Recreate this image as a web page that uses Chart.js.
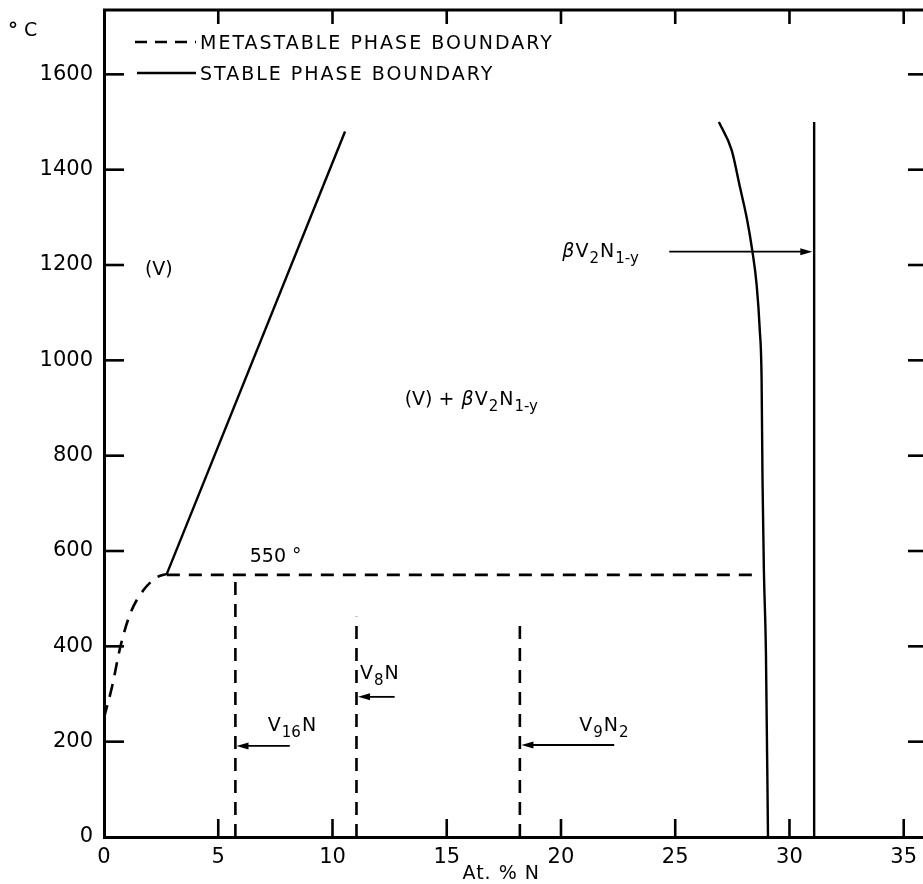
<!DOCTYPE html>
<html>
<head>
<meta charset="utf-8">
<script src="https://cdn.jsdelivr.net/npm/chart.js@4/dist/chart.umd.min.js"></script>
<style>
  html, body { margin: 0; padding: 0; background: #fff; }
</style>
</head>
<body>
<canvas id="c" width="923" height="884"></canvas>
<script>
const xTicks = [0, 5, 10, 15, 20, 25, 30, 35];
const yTicks = [0, 200, 400, 600, 800, 1000, 1200, 1400, 1600];

// metastable (dashed) boundaries
const solvusX = [0, 0.35, 0.72, 1.16, 1.73, 2.33, 2.75];
const solvusY = [250, 315, 400, 470, 518, 545, 552];
const isoX = [2.75, 28.4];
const isoY = [550, 550];
const v16nX = [5.75, 5.75];
const v16nY = [0, 550];
const v8nX = [11.05, 11.05];
const v8nY = [0, 462];
const v9n2X = [18.2, 18.2];
const v9n2Y = [0, 447];

// stable (solid) boundaries
const vLineX = [2.75, 10.55];
const vLineY = [552, 1480];
const betaLeftX = [26.91, 27.47, 27.83, 28.15, 28.37, 28.56, 28.7, 28.78, 28.82, 28.88, 28.97, 29.06];
const betaLeftY = [1500, 1441, 1364, 1294, 1231, 1160, 1064, 959, 749, 560, 386, 0];
const betaRightX = [31.08, 31.08];
const betaRightY = [0, 1500];

function pts(xs, ys){ return xs.map((x, i) => ({x: x, y: ys[i]})); }

const FONT = '"DejaVu Sans", "Liberation Sans", sans-serif';

function dashed(xs, ys, smooth){
  return { data: pts(xs, ys), borderColor: '#000', borderWidth: 2.6, borderDash: [13, 9],
           pointRadius: 0, cubicInterpolationMode: smooth ? 'monotone' : 'default', fill: false };
}
function solid(xs, ys, smooth){
  return { data: pts(xs, ys), borderColor: '#000', borderWidth: 2.4,
           pointRadius: 0, cubicInterpolationMode: smooth ? 'monotone' : 'default', fill: false };
}

// text labels: parts with subscripts, anchored at left/baseline in data units
const labels = [
  { x: 1.79, y: 1179, parts: [{t: '(V)'}] },
  { x: 13.16, y: 907, parts: [{t: '(V) + '}, {t: 'β', it: true}, {t: 'V'}, {t: '2', sub: true}, {t: 'N'}, {t: '1-y', sub: true}] },
  { x: 20.06, y: 1217, parts: [{t: 'β', it: true}, {t: 'V'}, {t: '2', sub: true}, {t: 'N'}, {t: '1-y', sub: true}] },
  { x: 6.38, y: 577, parts: [{t: '550 °'}] },
  { x: 7.17, y: 222, parts: [{t: 'V'}, {t: '16', sub: true}, {t: 'N'}] },
  { x: 11.2, y: 332, parts: [{t: 'V'}, {t: '8', sub: true}, {t: 'N'}] },
  { x: 20.8, y: 222, parts: [{t: 'V'}, {t: '9', sub: true}, {t: 'N'}, {t: '2', sub: true}] }
];

// arrows: tail -> head, data units
const arrows = [
  { x1: 8.13, x2: 5.8, y: 191 },
  { x1: 12.72, x2: 11.12, y: 294 },
  { x1: 22.33, x2: 18.27, y: 193 },
  { x1: 24.74, x2: 31.0, y: 1228 }
];

function drawRich(ctx, x, y, parts, size){
  let cx = x;
  ctx.textBaseline = 'alphabetic';
  ctx.textAlign = 'left';
  parts.forEach(p => {
    const fs = p.sub ? Math.round(size * 0.78) : size;
    ctx.font = (p.it ? 'italic ' : '') + fs + 'px ' + FONT;
    ctx.fillText(p.t, cx, y + (p.sub ? size * 0.32 : 0));
    cx += ctx.measureText(p.t).width + 1;
  });
}

const decor = {
  id: 'decor',
  afterDatasetsDraw(chart){
    const ctx = chart.ctx;
    const xs = chart.scales.x, ys = chart.scales.y;
    const ca = chart.chartArea;
    ctx.save();
    ctx.strokeStyle = '#000';
    ctx.fillStyle = '#000';
    ctx.setLineDash([]);

    // top frame line
    ctx.lineWidth = 3;
    ctx.beginPath();
    ctx.moveTo(ca.left - 1, ca.top);
    ctx.lineTo(chart.width, ca.top);
    ctx.stroke();

    // inward tick marks
    ctx.lineWidth = 2.6;
    xTicks.forEach(v => {
      if (v === 0) return;
      const px = xs.getPixelForValue(v);
      ctx.beginPath(); ctx.moveTo(px, ca.bottom); ctx.lineTo(px, ca.bottom - 18); ctx.stroke();
      ctx.beginPath(); ctx.moveTo(px, ca.top); ctx.lineTo(px, ca.top + 14); ctx.stroke();
    });
    yTicks.forEach(v => {
      if (v === 0) return;
      const py = ys.getPixelForValue(v);
      ctx.beginPath(); ctx.moveTo(ca.left, py); ctx.lineTo(ca.left + 20, py); ctx.stroke();
      ctx.beginPath(); ctx.moveTo(chart.width, py); ctx.lineTo(chart.width - 15, py); ctx.stroke();
    });

    // arrows
    ctx.lineWidth = 1.8;
    arrows.forEach(a => {
      const x1 = xs.getPixelForValue(a.x1), x2 = xs.getPixelForValue(a.x2);
      const py = ys.getPixelForValue(a.y);
      const dir = x2 > x1 ? 1 : -1;
      ctx.beginPath(); ctx.moveTo(x1, py); ctx.lineTo(x2 - dir * 8, py); ctx.stroke();
      ctx.beginPath();
      ctx.moveTo(x2, py);
      ctx.lineTo(x2 - dir * 12, py - 3.5);
      ctx.lineTo(x2 - dir * 12, py + 3.5);
      ctx.closePath(); ctx.fill();
    });

    // labels
    labels.forEach(l => {
      drawRich(ctx, xs.getPixelForValue(l.x), ys.getPixelForValue(l.y), l.parts, 19);
    });

    // legend
    const lx = ca.left;
    ctx.lineWidth = 2.4;
    ctx.setLineDash([12, 8]);
    ctx.beginPath(); ctx.moveTo(lx + 31, ca.top + 32); ctx.lineTo(lx + 92, ca.top + 32); ctx.stroke();
    ctx.setLineDash([]);
    ctx.beginPath(); ctx.moveTo(lx + 33, ca.top + 63); ctx.lineTo(lx + 92, ca.top + 63); ctx.stroke();
    ctx.font = '19px ' + FONT;
    ctx.letterSpacing = '2px';
    ctx.textBaseline = 'alphabetic';
    ctx.fillText('METASTABLE PHASE BOUNDARY', lx + 96, ca.top + 39);
    ctx.fillText('STABLE PHASE BOUNDARY', lx + 96, ca.top + 70);
    ctx.letterSpacing = '1px';

    // axis titles
    ctx.font = '19px ' + FONT;
    ctx.fillText('At. % N', xs.getPixelForValue(15.69), ca.bottom + 42);
    ctx.font = 'bold 20px ' + FONT;
    ctx.fillText('°', 8, 36);
    ctx.font = '19px ' + FONT;
    ctx.fillText('C', 24, 36);
    ctx.restore();
  }
};

new Chart(document.getElementById('c'), {
  type: 'scatter',
  data: {
    datasets: [
      dashed(solvusX, solvusY, true),
      dashed(isoX, isoY),
      dashed(v16nX, v16nY),
      dashed(v8nX, v8nY),
      dashed(v9n2X, v9n2Y),
      solid(vLineX, vLineY),
      solid(betaLeftX, betaLeftY, true),
      solid(betaRightX, betaRightY)
    ].map(d => Object.assign(d, { showLine: true }))
  },
  options: {
    responsive: false,
    animation: false,
    layout: { padding: { top: 10, right: 1, left: 0, bottom: 0 } },
    plugins: { legend: { display: false }, tooltip: { enabled: false } },
    scales: {
      x: {
        type: 'linear', min: 0, max: 35.8,
        afterBuildTicks: s => { s.ticks = xTicks.map(v => ({ value: v })); },
        afterFit: s => { s.height = 47; s.paddingLeft = 0; s.paddingRight = 0; },
        grid: { display: false },
        border: { display: true, width: 3, color: '#000' },
        ticks: { color: '#000', padding: 0, maxRotation: 0, autoSkip: false,
                 callback: v => String(v), font: { family: FONT, size: 21 } }
      },
      y: {
        type: 'linear', min: 0, max: 1735,
        afterBuildTicks: s => { s.ticks = yTicks.map(v => ({ value: v })); },
        afterFit: s => { s.width = 104; s.paddingTop = 0; s.paddingBottom = 0; },
        grid: { display: false },
        border: { display: true, width: 3, color: '#000' },
        ticks: { color: '#000', padding: 3, autoSkip: false,
                 callback: v => String(v), font: { family: FONT, size: 21 } }
      }
    }
  },
  plugins: [decor]
});
</script>
</body>
</html>
